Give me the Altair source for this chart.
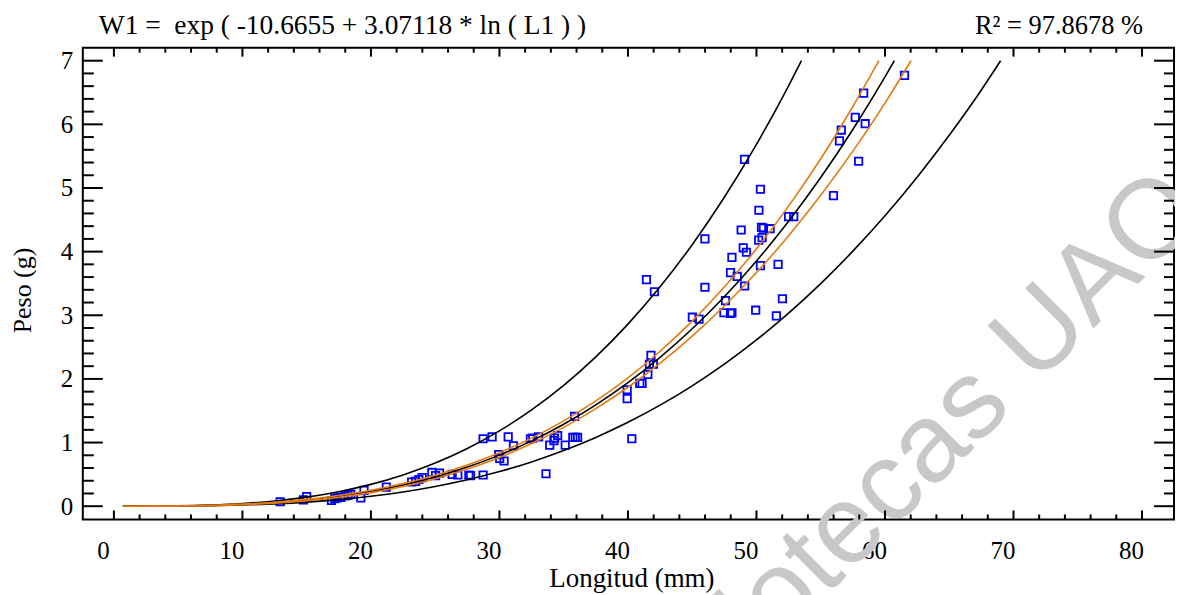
import altair as alt
import pandas as pd

# ---------------- data ----------------
length_mm = [12.94, 15.00, 14.75, 16.93, 17.19, 17.37, 17.66, 17.97, 18.22, 18.43,
             19.21, 19.46, 21.20, 23.17, 23.48, 23.73, 23.99, 24.74, 25.03, 25.34,
             26.32, 26.76, 27.62, 27.75, 28.73, 28.73, 29.43, 29.95, 30.02, 30.36,
             30.68, 31.09, 32.41, 32.59, 33.05, 33.62, 33.91, 34.24, 34.29, 34.53,
             35.12, 35.71, 35.90, 36.08, 35.85, 40.30, 39.94, 39.94, 40.92, 41.10,
             41.55, 41.67, 41.98, 41.79, 41.44, 42.06, 45.01, 45.53, 45.99, 45.99,
             47.59, 47.47, 47.98, 48.09, 47.98, 48.50, 49.08, 48.09, 48.97, 49.22,
             48.81, 49.07, 50.31, 50.19, 50.39, 50.54, 51.06, 50.44, 50.17, 50.31,
             51.68, 52.02, 49.94, 51.55, 52.50, 52.90, 55.99, 57.95, 56.46, 56.60,
             57.69, 58.46, 58.34, 61.52]
weight_g = [0.07, 0.15, 0.10, 0.09, 0.12, 0.13, 0.14, 0.16, 0.17, 0.19,
            0.13, 0.25, 0.30, 0.38, 0.39, 0.42, 0.45, 0.53, 0.48, 0.52,
            0.50, 0.49, 0.49, 0.48, 0.49, 1.06, 1.09, 0.81, 0.75, 0.71,
            1.09, 0.95, 1.06, 1.07, 1.09, 0.51, 0.96, 1.03, 1.07, 1.11,
            0.96, 1.08, 1.08, 1.08, 1.41, 1.06, 1.83, 1.69, 1.93, 1.93,
            2.07, 2.23, 2.23, 2.37, 3.56, 3.37, 2.97, 2.94, 4.20, 3.44,
            3.23, 3.04, 3.03, 3.04, 3.67, 3.61, 3.46, 3.91, 4.06, 3.99,
            4.34, 5.45, 4.98, 4.65, 4.38, 4.37, 4.36, 4.22, 4.18, 3.78,
            3.80, 3.26, 3.08, 2.99, 4.55, 4.55, 4.88, 5.42, 5.74, 5.91,
            6.11, 6.01, 6.49, 6.77]

fit_x = [0.7, 5, 7.5, 10, 12.5, 15, 17.5, 20, 22.5, 25, 27.5, 30, 32.5, 35, 37.5,
         40, 42.5, 45, 47.5, 50, 52.5, 55, 57.5, 60, 60.73]
fit_y = [0.0, 0.0033, 0.0114, 0.0275, 0.0546, 0.0955, 0.1533, 0.2311, 0.3317, 0.4585,
         0.6144, 0.8026, 1.0263, 1.2886, 1.5927, 1.9419, 2.3393, 2.7882, 3.2919, 3.8535,
         4.4765, 5.1639, 5.9193, 6.7456, 7.0]

pred_up_x = [0.7, 5, 7.5, 10, 12.5, 15, 17.5, 20, 22.5, 25, 27.5, 30, 32.5, 35, 37.5,
             40, 42.5, 45, 47.5, 50, 52.5, 53.5]
pred_up_y = [0.0, 0.0052, 0.0175, 0.0416, 0.0820, 0.1426, 0.2280, 0.3427, 0.4908, 0.6773,
             0.9067, 1.1835, 1.5127, 1.8986, 2.3465, 2.8610, 3.4472, 4.1095, 4.8539, 5.6843,
             6.6060, 7.0]

pred_lo_x = [0.7, 5, 7.5, 10, 12.5, 15, 17.5, 20, 22.5, 25, 27.5, 30, 32.5, 35, 37.5,
             40, 42.5, 45, 47.5, 50, 52.5, 55, 57.5, 60, 62.5, 65, 67.5, 69.0]
pred_lo_y = [0.0, 0.0021, 0.0074, 0.0182, 0.0364, 0.0640, 0.1031, 0.1559, 0.2242, 0.3104,
             0.4163, 0.5443, 0.6963, 0.8746, 1.0810, 1.3180, 1.5875, 1.8917, 2.2325, 2.6124,
             3.0335, 3.4976, 4.0074, 4.5640, 5.1705, 5.8288, 6.5407, 7.0]

conf_up_x = [0.7, 5, 7.5, 10, 12.5, 15, 17.5, 20, 22.5, 25, 27.5, 30, 32.5, 35, 37.5,
             40, 42.5, 45, 47.5, 50, 52.5, 55, 57.5, 59.53]
conf_up_y = [0.0, 0.0041, 0.0137, 0.0320, 0.0621, 0.1066, 0.1684, 0.2505, 0.3556, 0.4869,
             0.6474, 0.8406, 1.0701, 1.3400, 1.6543, 2.0176, 2.4345, 2.9084, 3.4440, 4.0446,
             4.7155, 5.4593, 6.2804, 7.0]

conf_lo_x = [0.7, 5, 7.5, 10, 12.5, 15, 17.5, 20, 22.5, 25, 27.5, 30, 32.5, 35, 37.5,
             40, 42.5, 45, 47.5, 50, 52.5, 55, 57.5, 60, 62.02]
conf_lo_y = [0.0, 0.0026, 0.0095, 0.0236, 0.0480, 0.0856, 0.1395, 0.2132, 0.3094, 0.4318,
             0.5831, 0.7663, 0.9843, 1.2392, 1.5334, 1.8690, 2.2478, 2.6730, 3.1465, 3.6714,
             4.2496, 4.8845, 5.5790, 6.3344, 7.0]

x_major = [0, 10, 20, 30, 40, 50, 60, 70, 80]
x_minor = [2, 4, 6, 8, 12, 14, 16, 18, 22, 24, 26, 28, 32, 34, 36, 38, 42, 44, 46, 48,
           52, 54, 56, 58, 62, 64, 66, 68, 72, 74, 76, 78]
y_major = [0, 1, 2, 3, 4, 5, 6, 7]
y_minor = [0.2, 0.4, 0.6, 0.8, 1.2, 1.4, 1.6, 1.8, 2.2, 2.4, 2.6, 2.8, 3.2, 3.4, 3.6, 3.8,
           4.2, 4.4, 4.6, 4.8, 5.2, 5.4, 5.6, 5.8, 6.2, 6.4, 6.6, 6.8]

equation_text = ["W1 =\u00a0 exp ( -10.6655 + 3.07118 * ln ( L1 ) )"]
r2_text = ["R\u00b2 = 97.8678 %"]
x_title = "Longitud (mm)"
y_title = "Peso (g)"
watermark_text = ["Bibliotecas UAQ"]

# ---------------- styles ----------------
W, H = 1094, 473
FONT = "Liberation Serif"
ORANGE = "#e37a10"
BLUE = "#0000ff"

xs = alt.Scale(domain=[-2.42, 82.49], nice=False, zero=False)
ys = alt.Scale(domain=[-0.208, 7.205], nice=False, zero=False)

ax_x = alt.Axis(values=x_major, ticks=False, tickSize=0, domain=False, grid=False,
                labelFontSize=25, labelPadding=19, labelOffset=-11, labelFlush=False,
                labelOverlap=False, format="d",
                title=x_title, titleFontSize=27, titleX=550, titleY=67,
                titleAlign="center", titleBaseline="alphabetic")
ax_y = alt.Axis(values=y_major, ticks=False, tickSize=0, domain=False, grid=False,
                labelFontSize=25, labelPadding=10, labelFlush=False,
                labelOverlap=False, format="d",
                title=y_title, titleFontSize=26, titleAngle=270, titleX=-60,
                titleY=243, titleAlign="center", titleBaseline="middle")


def X(field):
    return alt.X(field, scale=xs, axis=ax_x)


def Y(field):
    return alt.Y(field, scale=ys, axis=ax_y)


def series(name, xv, yv):
    return pd.DataFrame({"L": xv, "W": yv, "s": name, "o": list(range(len(xv)))})


black_df = pd.concat([series("fit", fit_x, fit_y),
                      series("pu", pred_up_x, pred_up_y),
                      series("pl", pred_lo_x, pred_lo_y)])
orange_df = pd.concat([series("cu", conf_up_x, conf_up_y),
                       series("cl", conf_lo_x, conf_lo_y)])
points_df = pd.DataFrame({"L": length_mm, "W": weight_g})

watermark = alt.Chart(pd.DataFrame({"t": watermark_text})).mark_text(
    angle=315, fontSize=112, font="Liberation Sans", color="#c8c8c8",
    align="center", baseline="middle"
).encode(text="t:N", x=alt.value(815), y=alt.value(432))

points = alt.Chart(points_df).mark_point(shape="square", filled=False, size=55,
                                          strokeWidth=1.8, color=BLUE, opacity=1).encode(
    x=X("L:Q"), y=Y("W:Q"))

black_lines = alt.Chart(black_df).mark_line(color="black", strokeWidth=1.6,
                                            interpolate="monotone", clip=True).encode(
    x=X("L:Q"), y=Y("W:Q"), detail="s:N", order="o:Q")

orange_lines = alt.Chart(orange_df).mark_line(color=ORANGE, strokeWidth=1.6,
                                              interpolate="monotone", clip=True).encode(
    x=X("L:Q"), y=Y("W:Q"), detail="s:N", order="o:Q")


def xticks(vals, y0, y1):
    return alt.Chart(pd.DataFrame({"L": vals})).mark_rule(color="black", strokeWidth=2).encode(
        x=X("L:Q"), y=alt.value(y0), y2=alt.value(y1))


def yticks(vals, x0, x1):
    return alt.Chart(pd.DataFrame({"W": vals})).mark_rule(color="black", strokeWidth=2).encode(
        y=Y("W:Q"), x=alt.value(x0), x2=alt.value(x1))


tick_layers = [
    xticks(x_major, H, H - 9), xticks(x_minor, H, H - 5),
    xticks(x_major, 0, 9), xticks(x_minor, 0, 5),
    yticks(y_major, 0, 20), yticks(y_minor, 0, 11),
    yticks(y_major, W, W - 20), yticks(y_minor, W, W - 10),
]

eq = alt.Chart(pd.DataFrame({"t": equation_text})).mark_text(
    align="left", baseline="alphabetic", fontSize=27.5, font=FONT, color="black"
).encode(text="t:N", x=alt.value(16), y=alt.value(-14))

r2 = alt.Chart(pd.DataFrame({"t": r2_text})).mark_text(
    align="right", baseline="alphabetic", fontSize=26.5, font=FONT, color="black"
).encode(text="t:N", x=alt.value(1063), y=alt.value(-14))

chart = alt.layer(
    watermark, points, black_lines, orange_lines, *tick_layers, eq, r2
).properties(
    width=W, height=H,
    autosize=alt.AutoSizeParams(type="none"),
    padding={"left": 75, "top": 39, "right": 1, "bottom": 75},
).configure_view(
    stroke="black", strokeWidth=2
).configure_axis(
    labelFont=FONT, titleFont=FONT, labelColor="black", titleColor="black",
    titleFontWeight="normal"
)

chart.save("out.html", embed_options={"renderer": "svg", "actions": False})
